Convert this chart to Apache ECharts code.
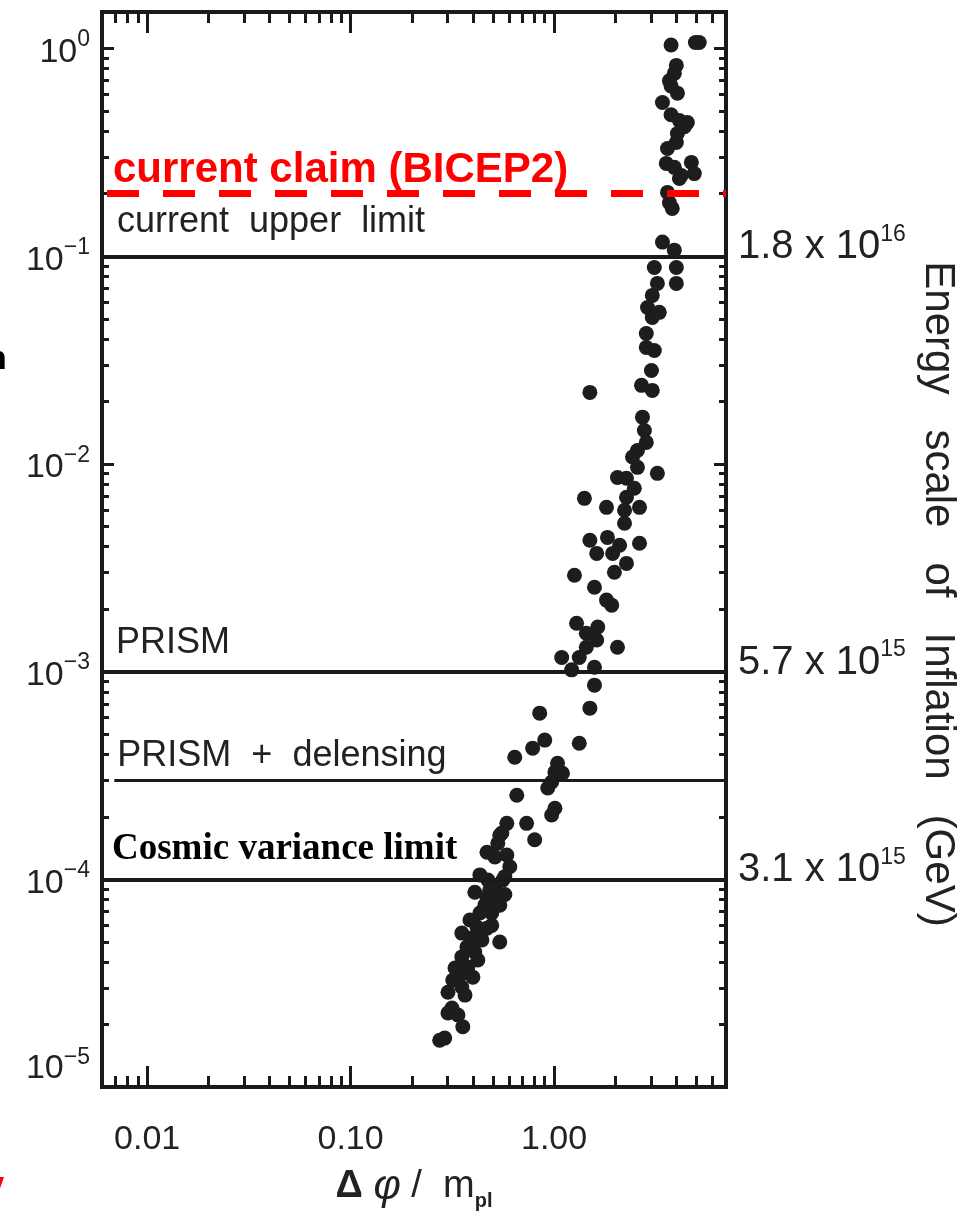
<!DOCTYPE html>
<html>
<head>
<meta charset="utf-8">
<script src="https://cdn.jsdelivr.net/npm/echarts@6/dist/echarts.min.js"></script>
<style>
  html, body { margin: 0; padding: 0; background: #ffffff; }
  #chart { width: 969px; height: 1220px; }
</style>
</head>
<body>
<div id="chart"></div>
<script>
// Field excursion of the inflaton vs. tensor-to-scalar ratio r (model scan)
const dphi = [
  3.76, 4.95, 5.17, 3.99, 3.90, 3.69, 3.76, 4.04, 3.41, 3.76,
  4.13, 4.52, 4.37, 4.04, 3.99, 3.61, 3.56, 3.90, 4.22, 4.73,
  4.89, 4.13, 3.61, 3.69, 3.81, 3.41, 3.90, 3.11, 3.99, 3.22,
  3.99, 3.04, 2.88, 3.29, 3.04, 2.84, 2.84, 3.11, 3.01, 2.69,
  3.04, 1.50, 2.72, 2.78, 2.84, 2.57, 2.43, 2.57, 3.22, 2.05,
  2.27, 2.48, 2.27, 1.41, 1.81, 2.63, 2.22, 2.22, 1.50, 1.83,
  2.10, 2.63, 1.62, 1.94, 2.27, 1.98, 1.26, 1.58, 1.81, 1.92,
  1.29, 1.64, 1.44, 1.62, 2.05, 1.44, 1.33, 1.09, 1.22, 1.58,
  1.58, 1.50, 0.850, 0.900, 0.785, 1.33, 0.641, 1.04, 1.01, 1.10,
  0.973, 0.931, 1.01, 0.973, 0.656, 0.733, 0.803, 0.586, 0.554, 0.529,
  0.468, 0.512, 0.586, 0.606, 0.573, 0.432, 0.473, 0.512, 0.408, 0.468,
  0.523, 0.494, 0.432, 0.386, 0.418, 0.468, 0.352, 0.395, 0.442, 0.541,
  0.373, 0.408, 0.352, 0.326, 0.377, 0.356, 0.399, 0.318, 0.301, 0.352,
  0.365, 0.315, 0.301, 0.337, 0.356, 0.274, 0.290, 0.541, 0.560, 0.457,
  0.541, 0.483, 0.573, 0.422, 0.386, 0.494
];
const rValues = [
  1.04, 1.07, 1.07, 0.83, 0.76, 0.70, 0.66, 0.61, 0.55, 0.48,
  0.45, 0.44, 0.42, 0.39, 0.353, 0.33, 0.28, 0.268, 0.245, 0.283,
  0.25, 0.237, 0.203, 0.181, 0.17, 0.117, 0.107, 0.0883, 0.0883, 0.074,
  0.074, 0.0648, 0.0567, 0.0537, 0.0507, 0.0425, 0.0364, 0.0352, 0.0282, 0.0239,
  0.0226, 0.0221, 0.0168, 0.0145, 0.0127, 0.0116, 0.0108, 0.00963, 0.00901, 0.00861,
  0.00853, 0.00764, 0.00691, 0.00683, 0.00618, 0.00618, 0.00598, 0.00518, 0.00429, 0.00443,
  0.00406, 0.00415, 0.00371, 0.00371, 0.00332, 0.00301, 0.00291, 0.00255, 0.00221, 0.00209,
  0.00171, 0.00164, 0.00153, 0.00142, 0.00131, 0.00131, 0.00117, 0.00117, 0.00102, 0.00105,
  0.000861, 0.000667, 0.000631, 0.000468, 0.000428, 0.000452, 0.000387, 0.000362, 0.000328, 0.000324,
  0.000294, 0.000275, 0.00022, 0.000204, 0.000254, 0.000186, 0.000155, 0.000186, 0.000167, 0.000149,
  0.000135, 0.000128, 0.000131, 0.000115, 0.000103, 0.000105, 0.0000993, 0.0000917, 0.0000867, 0.000082,
  0.0000794, 0.0000688, 0.0000688, 0.0000637, 0.0000589, 0.0000582, 0.0000551, 0.0000521, 0.000051, 0.0000499,
  0.0000472, 0.0000447, 0.0000423, 0.0000374, 0.0000378, 0.0000354, 0.0000338, 0.0000327, 0.0000286, 0.0000303,
  0.0000277, 0.000024, 0.0000227, 0.0000222, 0.0000195, 0.0000168, 0.0000172, 0.000163, 0.0000993, 0.0000751,
  0.0000751, 0.0000887, 0.0000845, 0.0000409, 0.0000482, 0.00006
];

// Axis ranges and tick labels
const X_MIN = 0.006, X_MAX = 7;
const R_MIN = 1e-5, R_MAX = 1.5;
const xMajor = [0.01, 0.1, 1];
const xTickLabels = ['0.01', '0.10', '1.00'];
const rMajor = [1e-5, 1e-4, 1e-3, 1e-2, 1e-1, 1];
const rTickExponents = ['\u22125', '\u22124', '\u22123', '\u22122', '\u22121', '0'];

// Energy scale of inflation at selected r
const energyAt = [1e-1, 1e-3, 1e-4];
const energyMantissa = ['1.8', '5.7', '3.1'];
const energyExponent = ['16', '15', '15'];

// Reference levels of r
const bicep2Claim = 0.2;
const upperLimit = 0.1;
const prismLimit = 1e-3;
const prismDelensing = 3e-4;
const cosmicVariance = 1e-4;
const delensingStart = 0.0069;

// Minor (2..9) ticks of each decade within a range
function minorTicks(lo, hi) {
  const out = [];
  for (let e = -6; e <= 1; e++) {
    for (let m = 2; m <= 9; m++) {
      const v = m * Math.pow(10, e);
      if (v > lo * 1.0001 && v < hi * 0.9999) out.push(v);
    }
  }
  return out;
}
const xMinor = minorTicks(X_MIN, X_MAX);
const rMinor = minorTicks(R_MIN, R_MAX);

const INK = '#1a1a1a';
const TXT = '#222222';
const SANS = "'Liberation Sans', Arial, Helvetica, sans-serif";
const SERIF = "'Liberation Serif', 'Times New Roman', serif";

function idxOf(list, v) {
  return list.findIndex(t => Math.abs(Math.log10(t) - Math.log10(v)) < 1e-6);
}

function xAxisDef(position, ticks, len, withLabels) {
  const ax = {
    type: 'log', min: X_MIN, max: X_MAX, position: position,
    axisLine: { show: false }, splitLine: { show: false },
    axisTick: { inside: true, length: len, customValues: ticks,
                lineStyle: { color: INK, width: 3 } },
    axisLabel: { show: false }
  };
  if (withLabels) {
    ax.axisLabel = {
      show: true, customValues: xMajor, margin: 36,
      fontSize: 34, fontFamily: SANS, color: TXT,
      formatter: v => xTickLabels[idxOf(xMajor, v)]
    };
    ax.name = '{d|\u0394} {p|\u03c6} {t|/}  {t|m}{s|pl}';
    ax.nameLocation = 'middle';
    ax.nameGap = 79;
    ax.nameTextStyle = {
      color: TXT, fontFamily: SANS, fontSize: 38, lineHeight: 40,
      rich: {
        d: { fontSize: 38, lineHeight: 40, fontWeight: 'bold', fontFamily: SANS, color: TXT },
        p: { fontSize: 42, lineHeight: 40, fontStyle: 'italic', fontFamily: SANS, color: TXT },
        t: { fontSize: 38, lineHeight: 40, fontFamily: SANS, color: TXT },
        s: { fontSize: 20, lineHeight: 20, fontWeight: 'bold', fontFamily: SANS, color: TXT,
             padding: [30, 0, 0, 0] }
      }
    };
  }
  return ax;
}

function yAxisDef(position, ticks, len) {
  return {
    type: 'log', min: R_MIN, max: R_MAX, position: position,
    axisLine: { show: false }, splitLine: { show: false },
    axisTick: { inside: true, length: len, customValues: ticks,
                lineStyle: { color: INK, width: 3 } },
    axisLabel: { show: false }
  };
}

const yLeft = yAxisDef('left', rMajor, 12);
yLeft.axisLabel = {
  show: true, customValues: rMajor, margin: 12,
  formatter: v => {
    const i = idxOf(rMajor, v);
    return i === 0 ? '{b5|10}{s5|' + rTickExponents[i] + '}'
                   : '{b|10}{s|' + rTickExponents[i] + '}';
  },
  rich: {
    b:  { fontSize: 34, lineHeight: 34, fontFamily: SANS, color: TXT, padding: [8, 0, 0, 0] },
    s:  { fontSize: 23, lineHeight: 23, fontFamily: SANS, color: TXT, padding: [0, 0, 17, 0] },
    b5: { fontSize: 34, lineHeight: 34, fontFamily: SANS, color: TXT, padding: [0, 0, 36, 0] },
    s5: { fontSize: 23, lineHeight: 23, fontFamily: SANS, color: TXT, padding: [0, 0, 59, 0] }
  }
};

const yRight = yAxisDef('right', rMajor, 12);
yRight.axisLabel = {
  show: true, customValues: energyAt, margin: 12,
  formatter: v => {
    const i = idxOf(energyAt, v);
    return '{m|' + energyMantissa[i] + ' x 10}{s|' + energyExponent[i] + '}';
  },
  rich: {
    m: { fontSize: 40, lineHeight: 40, fontFamily: SANS, color: TXT, padding: [0, 0, 18, 0] },
    s: { fontSize: 23, lineHeight: 23, fontFamily: SANS, color: TXT, padding: [0, 0, 44, 0] }
  }
};
yRight.name = 'Energy   scale   of   Inflation   (GeV)';
yRight.nameLocation = 'middle';
yRight.nameRotate = -90;
yRight.nameGap = 190;
yRight.nameTextStyle = {
  fontSize: 42, lineHeight: 42, fontFamily: SANS, color: TXT, padding: [0, 0, 0, 89]
};

function levelLine(r, text, opts) {
  return [
    {
      coord: [opts.start || X_MIN, r],
      lineStyle: { color: opts.color || INK, width: opts.width || 4,
                   type: opts.dash || 'solid', dashOffset: opts.dashOffset || 0 },
      label: {
        show: true, position: 'insideStartTop', formatter: text,
        distance: opts.distance, color: opts.textColor || TXT,
        fontSize: opts.fontSize || 36, fontFamily: opts.fontFamily || SANS,
        fontWeight: opts.fontWeight || 'normal'
      }
    },
    { coord: [X_MAX, r] }
  ];
}

const chart = echarts.init(document.getElementById('chart'), null, { renderer: 'canvas' });
chart.setOption({
  animation: false,
  backgroundColor: '#ffffff',
  grid: {
    left: 102, right: 243, top: 12, bottom: 133,
    show: true, borderWidth: 4, borderColor: INK, backgroundColor: 'transparent',
    outerBoundsMode: 'none'
  },
  xAxis: [
    xAxisDef('bottom', xMajor, 21, true),
    xAxisDef('bottom', xMinor, 11, false),
    xAxisDef('top', xMajor, 21, false),
    xAxisDef('top', xMinor, 11, false)
  ],
  yAxis: [
    yLeft,
    yAxisDef('left', rMinor, 7),
    yRight,
    yAxisDef('right', rMinor, 7)
  ],
  graphic: [
    { type: 'text', x: -14, y: 343, silent: true,
      style: { text: 'n', fontSize: 34, fontWeight: 'bold', fontFamily: SANS, fill: '#000' } },
    { type: 'text', x: -12, y: 1170, silent: true,
      style: { text: 'v', fontSize: 29, fontWeight: 'bold', fontFamily: SANS, fill: '#ff0000' } }
  ],
  series: [{
    type: 'scatter',
    xAxisIndex: 0, yAxisIndex: 0,
    symbol: 'circle', symbolSize: 15,
    itemStyle: { color: '#1f1c1d', opacity: 1 },
    data: dphi.map((x, i) => [x, rValues[i]]),
    markLine: {
      silent: true, symbol: 'none', animation: false, z: 5,
      data: [
        levelLine(upperLimit, 'current  upper  limit', { distance: [15, 16] }),
        levelLine(prismLimit, 'PRISM', { distance: [14, 10.5] }),
        levelLine(prismDelensing, 'PRISM  +  delensing',
                  { start: delensingStart, width: 3, distance: [3, 6.5] }),
        levelLine(cosmicVariance, 'Cosmic variance limit',
                  { distance: [10, 11], fontSize: 37, fontFamily: SERIF, fontWeight: 'bold',
                    textColor: '#000' }),
        levelLine(bicep2Claim, 'current claim (BICEP2)',
                  { color: '#ff0000', width: 7, dash: [32, 24], dashOffset: 51,
                    distance: [11, 2], fontSize: 42, fontWeight: 'bold', textColor: '#ff0000' })
      ]
    }
  }]
});
</script>
</body>
</html>
